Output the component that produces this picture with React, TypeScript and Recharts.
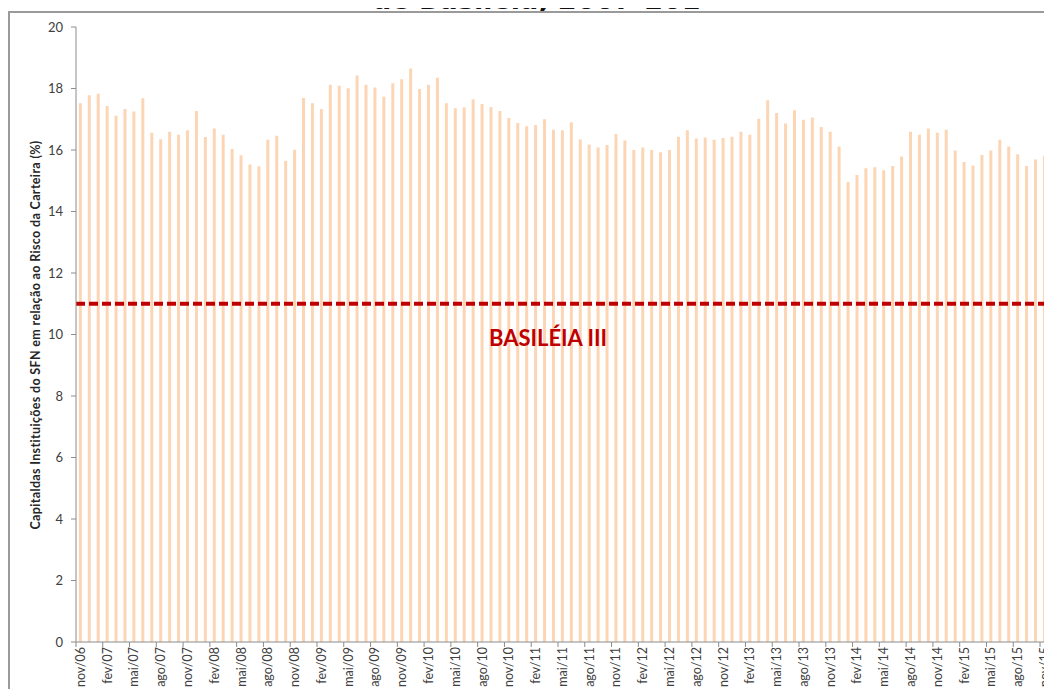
import { BarChart, Bar, XAxis, YAxis, ReferenceLine } from 'recharts';

const MONTHS = ['jan', 'fev', 'mar', 'abr', 'mai', 'jun', 'jul', 'ago', 'set', 'out', 'nov', 'dez'];

// nov/06 .. nov/15, one category per month
const categories: string[] = [];
for (let y = 2006; y <= 2015; y++) {
  for (let m = 0; m < 12; m++) {
    if (y === 2006 && m < 10) continue;
    if (y === 2015 && m > 10) continue;
    categories.push(`${MONTHS[m]}/${String(y).slice(2)}`);
  }
}

// capital ratio (%)
const capital = [
  17.52, 17.78, 17.83, 17.43, 17.11, 17.33, 17.25, 17.68, 16.56, 16.35,
  16.59, 16.5, 16.64, 17.27, 16.42, 16.7, 16.5, 16.03, 15.83, 15.53,
  15.47, 16.33, 16.46, 15.65, 16.01, 17.69, 17.52, 17.33, 18.12, 18.09,
  18.01, 18.42, 18.12, 18.03, 17.73, 18.17, 18.3, 18.65, 17.98, 18.12,
  18.35, 17.52, 17.36, 17.38, 17.65, 17.5, 17.4, 17.27, 17.04, 16.88,
  16.77, 16.81, 17.0, 16.66, 16.64, 16.9, 16.34, 16.18, 16.08, 16.16,
  16.52, 16.31, 16.0, 16.08, 16.0, 15.93, 16.0, 16.43, 16.64, 16.37,
  16.41, 16.33, 16.39, 16.43, 16.59, 16.5, 17.02, 17.62, 17.2, 16.86,
  17.29, 16.98, 17.06, 16.75, 16.59, 16.11, 14.96, 15.19, 15.41, 15.44,
  15.34, 15.48, 15.79, 16.59, 16.5, 16.7, 16.56, 16.66, 15.98, 15.61,
  15.5, 15.84, 15.98, 16.33, 16.11, 15.86, 15.48, 15.69, 15.81,
];

const yTicks = [0, 2, 4, 6, 8, 10, 12, 14, 16, 18, 20];
const basileia = 11;

const data = categories.map((c, i) => ({ month: c, capital: capital[i] }));

const FONT = 'Lato, "Open Sans", sans-serif';

function MonthTick(props: any) {
  const { x, y, payload } = props;
  return (
    <g transform={`translate(${x},${y})`}>
      <line x1={-4.5} x2={-4.5} y1={-8} y2={-3} stroke="#8c8c8c" />
      <text
        transform="rotate(-90)"
        x={3}
        y={0}
        dy="0.35em"
        textAnchor="end"
        fontSize={12.5}
        fill="#404040"
        fontFamily={FONT}
      >
        {payload.value}
      </text>
    </g>
  );
}

function BasileiaLabel(props: any) {
  const { viewBox } = props;
  return (
    <text
      x={viewBox.x + 472}
      y={viewBox.y + 42}
      textAnchor="middle"
      fontSize={22}
      fontWeight="bold"
      fill="#c00000"
      fontFamily={FONT}
    >
      BASILÉIA III
    </text>
  );
}

export default function App() {
  return (
    <div style={{ position: 'relative', margin: -8, width: 1052, height: 697, overflow: 'hidden', background: '#fff' }}>
      <div
        style={{
          position: 'absolute',
          left: 372,
          top: -14,
          fontFamily: '"DejaVu Sans", sans-serif',
          fontWeight: 'bold',
          fontSize: 27,
          lineHeight: 1,
          whiteSpace: 'nowrap',
          color: '#111',
        }}
      >
        de Basiléia, 2007-201
      </div>
      <div
        style={{
          position: 'absolute',
          left: 8,
          top: 11,
          width: 1200,
          height: 900,
          borderTop: '2px solid #9a9a9a',
          borderLeft: '2px solid #9a9a9a',
        }}
      />
      <div
        style={{
          position: 'absolute',
          left: 35,
          top: 335,
          transform: 'translate(-50%, -50%) rotate(-90deg)',
          whiteSpace: 'nowrap',
          fontFamily: FONT,
          fontWeight: 'bold',
          fontSize: 12.5,
          letterSpacing: 0.35,
          color: '#262626',
        }}
      >
        Capitaldas Instituições do SFN em relação ao Risco da Carteira (%)
      </div>
      <div style={{ position: 'absolute', left: 0, top: 0 }}>
        <BarChart
          width={1052}
          height={697}
          data={data}
          margin={{ top: 27, right: 3, bottom: 0, left: 16 }}
          barCategoryGap="32%"
        >
          <XAxis
            dataKey="month"
            interval={2}
            height={55}
            tickLine={false}
            axisLine={{ stroke: '#8c8c8c' }}
            tick={<MonthTick />}
          />
          <YAxis
            width={60}
            domain={[0, 20]}
            ticks={yTicks}
            interval={0}
            tickSize={5}
            tickMargin={8}
            axisLine={{ stroke: '#8c8c8c' }}
            tickLine={{ stroke: '#8c8c8c' }}
            tick={{ fontSize: 13, fill: '#404040', fontFamily: FONT }}
          />
          <Bar dataKey="capital" fill="#fcd5b4" isAnimationActive={false} />
          <ReferenceLine
            y={basileia}
            stroke="#c00000"
            strokeWidth={4}
            strokeDasharray="9 4"
            label={<BasileiaLabel />}
          />
        </BarChart>
      </div>
    </div>
  );
}
